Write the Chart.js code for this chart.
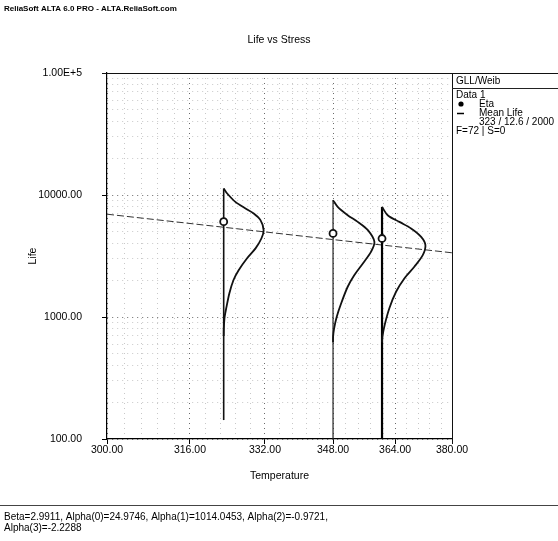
<!DOCTYPE html>
<html>
<head>
<meta charset="utf-8">
<script src="https://cdn.jsdelivr.net/npm/chart.js@4.4.1/dist/chart.umd.min.js"></script>
<style>
  html, body { margin: 0; padding: 0; background: #fff; }
  canvas { display: block; }
</style>
</head>
<body>
<canvas id="chart" width="558" height="541"></canvas>
<script>
// Temperature axis (reciprocal) and life axis (logarithmic) ticks
const xMajorTicks = [300, 316, 332, 348, 364, 380];
const xMinorPerMajor = 5;
const yMajorTicks = [100, 1000, 10000, 100000];
const yTickLabels = ['100.00', '1000.00', '10000.00', '1.00E+5'];

// Stress levels and Weibull eta at each level
const stressLevels = [323, 348, 360.5];
const etaValues = [6050, 4840, 4400];

// Mean life vs temperature
const meanLifeTemp = [300, 323, 348, 360.5, 380];
const meanLife = [6960, 5440, 4310, 3890, 3360];

// Weibull pdf curves drawn sideways at each stress level
const pdf1Temp = [323.0, 323.7, 325.5, 327.7, 329.5, 331.0, 331.7, 331.2, 329.9, 328.0, 326.2, 325.1, 324.2, 323.6, 323.2, 323.02, 323.0];
const pdf1Life = [11300, 10340, 8780, 7750, 7050, 6220, 5150, 4400, 3650, 3020, 2420, 2010, 1560, 1210, 1000, 800, 700];
const pdf2Temp = [348.0, 349.15, 351.65, 354.2, 356.8, 358.5, 357.6, 355.5, 353.3, 351.65, 350.0, 348.9, 348.25, 348.02, 348.0];
const pdf2Life = [9070, 7990, 6830, 6020, 5150, 4130, 3420, 2750, 2200, 1770, 1290, 1000, 800, 690, 620];
const pdf3Temp = [360.5, 362.0, 365.15, 368.35, 371.15, 372.35, 371.6, 369.25, 366.5, 364.25, 362.45, 361.2, 360.6, 360.5];
const pdf3Life = [7990, 6830, 6020, 5320, 4540, 3880, 3210, 2580, 2070, 1610, 1180, 860, 690, 620];

// Vertical baselines of the pdf curves (bottom, top life)
const baseLife1 = [143, 11300];
const baseLife2 = [100, 9070];
const baseLife3 = [100, 7990];

const FONT = "'Liberation Sans', Arial, Helvetica, sans-serif";
Chart.defaults.font.family = FONT;
Chart.defaults.color = '#000';

// Linear axis whose pixel position follows 1/T (Arrhenius-style temperature axis)
class ReciprocalScale extends Chart.LinearScale {
  static id = 'reciprocal';
  static defaults = {};
  getPixelForValue(value) {
    const a = 1 / this.min, b = 1 / this.max;
    return this.getPixelForDecimal((a - 1 / value) / (a - b));
  }
  getValueForPixel(pixel) {
    const a = 1 / this.min, b = 1 / this.max;
    return 1 / (a - this.getDecimalForPixel(pixel) * (a - b));
  }
}
Chart.register(ReciprocalScale);

const xTicks = [];
for (let i = 0; i < xMajorTicks.length - 1; i++) {
  const step = (xMajorTicks[i + 1] - xMajorTicks[i]) / xMinorPerMajor;
  for (let k = 0; k < xMinorPerMajor; k++) xTicks.push(Math.round((xMajorTicks[i] + k * step) * 100) / 100);
}
xTicks.push(xMajorTicks[xMajorTicks.length - 1]);

const yTicks = [];
for (let d = 0; d < yMajorTicks.length - 1; d++) {
  for (let m = 1; m < 10; m++) yTicks.push(yMajorTicks[d] * m);
}
yTicks.push(yMajorTicks[yMajorTicks.length - 1]);

const isXMajor = v => xMajorTicks.some(t => Math.abs(t - v) < 1e-6);
const isYMajor = v => yMajorTicks.some(t => Math.abs(t - v) < 1e-6);
const pts = (xs, ys) => xs.map((x, i) => ({ x, y: ys[i] }));

const decor = {
  id: 'decor',
  beforeDraw(chart) {
    const ctx = chart.ctx;
    ctx.save();
    ctx.fillStyle = '#fff';
    ctx.fillRect(0, 0, chart.width, chart.height);
    ctx.restore();
  },
  afterDraw(chart) {
    const { ctx, chartArea: a } = chart;
    const W = chart.width;
    ctx.save();
    const line = (x1, y1, x2, y2, w, c) => {
      ctx.beginPath();
      ctx.lineWidth = w; ctx.strokeStyle = c;
      ctx.moveTo(x1, y1); ctx.lineTo(x2, y2); ctx.stroke();
    };
    // frame: top edge runs across the legend, right edge of the plot
    line(a.left - 5, Math.round(a.top) + 0.5, W, Math.round(a.top) + 0.5, 1, '#111');
    line(Math.round(a.right) + 0.5, a.top, Math.round(a.right) + 0.5, a.bottom + 5, 1, '#111');
    // legend box
    const lx = a.right;
    line(lx, 88.5, W, 88.5, 1, '#222');
    ctx.fillStyle = '#000';
    ctx.textBaseline = 'middle';
    ctx.textAlign = 'left';
    ctx.font = '10px ' + FONT;
    ctx.fillText('GLL/Weib', lx + 4, 81);
    ctx.fillText('Data 1', lx + 4, 95);
    ctx.beginPath();
    ctx.arc(lx + 9, 104, 2.6, 0, Math.PI * 2);
    ctx.fill();
    ctx.fillText('Eta', lx + 27, 104);
    line(lx + 5, 113.5, lx + 12, 113.5, 1.5, '#000');
    ctx.fillText('Mean Life', lx + 27, 113);
    ctx.fillText('323 / 12.6 / 2000', lx + 27, 122.5);
    ctx.fillText('F=72 | S=0', lx + 4, 131.5);
    // header and title
    ctx.font = 'bold 8px ' + FONT;
    ctx.fillText('ReliaSoft ALTA 6.0 PRO - ALTA.ReliaSoft.com', 4, 9);
    ctx.font = '10.5px ' + FONT;
    ctx.textAlign = 'center';
    ctx.fillText('Life vs Stress', 279, 40);
    // parameter footer
    line(0, 505.5, W, 505.5, 1, '#444');
    ctx.textAlign = 'left';
    ctx.font = '10px ' + FONT;
    ctx.fillText('Beta=2.9911, Alpha(0)=24.9746, Alpha(1)=1014.0453, Alpha(2)=-0.9721,', 4, 517);
    ctx.fillText('Alpha(3)=-2.2288', 4, 528);
    ctx.restore();
  }
};

const curveStyle = { borderColor: '#111', borderWidth: 1.8, pointRadius: 0, tension: 0.3, fill: false };

new Chart(document.getElementById('chart'), {
  type: 'line',
  data: {
    datasets: [
      {
        label: 'Eta',
        data: pts(stressLevels, etaValues),
        showLine: false,
        pointStyle: 'circle',
        pointRadius: 3.5,
        pointBorderWidth: 1.8,
        pointBorderColor: '#111',
        pointBackgroundColor: '#fff'
      },
      { label: 'pdf 1', data: pts(pdf1Temp, pdf1Life), ...curveStyle },
      { label: 'pdf 2', data: pts(pdf2Temp, pdf2Life), ...curveStyle },
      { label: 'pdf 3', data: pts(pdf3Temp, pdf3Life), ...curveStyle },
      { label: 'base 1', data: pts([stressLevels[0], stressLevels[0]], baseLife1), borderColor: '#111', borderWidth: 1.6, pointRadius: 0 },
      { label: 'base 2', data: pts([stressLevels[1], stressLevels[1]], baseLife2), borderColor: '#222', borderWidth: 1.2, pointRadius: 0 },
      { label: 'base 3', data: pts([stressLevels[2], stressLevels[2]], baseLife3), borderColor: '#000', borderWidth: 2.2, pointRadius: 0 },
      {
        label: 'Mean Life',
        data: pts(meanLifeTemp, meanLife),
        borderColor: '#333',
        borderWidth: 1,
        borderDash: [7, 3],
        pointRadius: 0,
        tension: 0
      }
    ]
  },
  options: {
    responsive: false,
    animation: false,
    events: [],
    layout: { padding: { top: 73, right: 106, left: 0, bottom: 0 } },
    plugins: { legend: { display: false }, tooltip: { enabled: false }, title: { display: false } },
    scales: {
      x: {
        type: 'reciprocal',
        position: 'bottom',
        min: 300,
        max: 380,
        bounds: 'data',
        afterBuildTicks: s => { s.ticks = xTicks.map(v => ({ value: v })); },
        afterFit: s => { s.height = 102; },
        ticks: {
          autoSkip: false,
          maxRotation: 0,
          padding: 0,
          font: { size: 10.5 },
          callback: v => isXMajor(v) ? Number(v).toFixed(2) : ''
        },
        grid: {
          drawTicks: true,
          tickLength: 5,
          lineWidth: 1,
          color: c => isXMajor(c.tick.value) ? '#6a6a6a' : '#c8c8c8',
          tickColor: c => isXMajor(c.tick.value) ? '#000' : 'rgba(0,0,0,0)'
        },
        border: { display: true, color: '#000', width: 1.2, dash: [1, 4] },
        title: { display: true, text: 'Temperature', font: { size: 10.5 }, padding: { top: 0, bottom: 59 } }
      },
      y: {
        type: 'logarithmic',
        position: 'left',
        min: 100,
        max: 100000,
        afterBuildTicks: s => { s.ticks = yTicks.map(v => ({ value: v })); },
        afterFit: s => { s.width = 107; },
        ticks: {
          autoSkip: false,
          padding: 20,
          font: { size: 10.5 },
          callback: v => isYMajor(v) ? yTickLabels[yMajorTicks.findIndex(t => Math.abs(t - v) < 1e-6)] : ''
        },
        grid: {
          drawTicks: true,
          tickLength: 5,
          lineWidth: 1,
          color: c => isYMajor(c.tick.value) ? '#6a6a6a' : '#c8c8c8',
          tickColor: c => isYMajor(c.tick.value) ? '#000' : 'rgba(0,0,0,0)'
        },
        border: { display: true, color: '#000', width: 1.2, dash: [1, 4] },
        title: { display: true, text: 'Life', font: { size: 10.5 }, padding: { top: 27, bottom: 0 } }
      }
    }
  },
  plugins: [decor]
});
</script>
</body>
</html>
